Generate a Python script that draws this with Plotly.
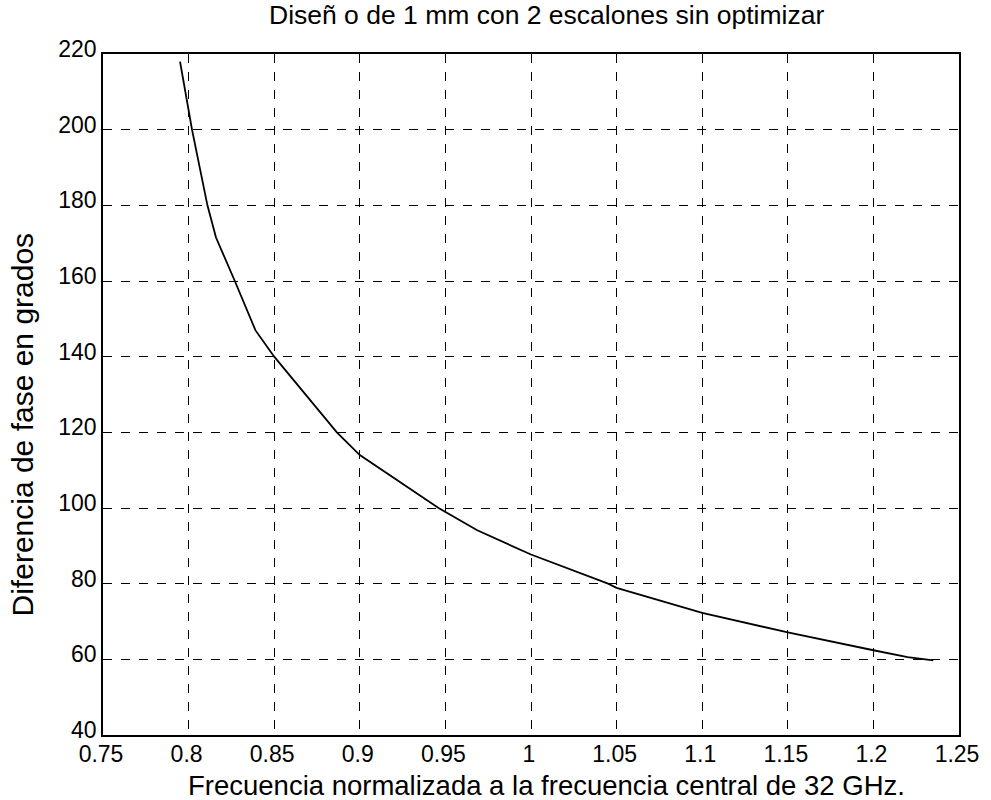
import plotly.graph_objects as go

# Normalized frequency (f / 32 GHz) and phase difference in degrees
freq_norm = [0.795, 0.802, 0.811, 0.816, 0.827, 0.839, 0.85, 0.8698, 0.8866, 0.9,
             0.946, 0.9686, 1.0, 1.045, 1.05, 1.1, 1.15, 1.2, 1.22, 1.235]
phase_deg = [218, 200, 180, 171.5, 160, 147, 140, 129.3, 120, 114,
             100, 94.1, 87.7, 80, 78.9, 72.3, 67.1, 62.4, 60.6, 59.7]

x_ticks = [0.75, 0.8, 0.85, 0.9, 0.95, 1.0, 1.05, 1.1, 1.15, 1.2, 1.25]
x_tick_text = ["0.75", "0.8", "0.85", "0.9", "0.95", "1", "1.05", "1.1", "1.15", "1.2", "1.25"]
y_ticks = [40, 60, 80, 100, 120, 140, 160, 180, 200, 220]

title_text = "Diseñ o de 1 mm con 2 escalones sin optimizar"
x_label = "Frecuencia normalizada a la frecuencia central de 32 GHz."
y_label = "Diferencia de fase en grados"

font_family = "Liberation Sans, Arial, sans-serif"

fig = go.Figure()
fig.add_trace(go.Scatter(
    x=freq_norm, y=phase_deg, mode="lines",
    line=dict(color="black", width=1.8),
    showlegend=False,
))

axis_common = dict(
    showline=True, mirror=True, linecolor="black", linewidth=1.8,
    showgrid=True, gridcolor="black", gridwidth=1, griddash="dash",
    zeroline=False, ticks="",
    tickfont=dict(family=font_family, size=23, color="black"),
)

fig.update_xaxes(range=[0.75, 1.25], tickvals=x_ticks, ticktext=x_tick_text,
                 ticklabelstandoff=-3, ticklabelshift=-2, **axis_common)
fig.update_yaxes(range=[40, 220], tickvals=y_ticks,
                 ticklabelstandoff=0, ticklabelshift=-5, **axis_common)

label_font = dict(family=font_family, color="black")
fig.update_layout(
    width=991, height=800,
    margin=dict(l=103, r=26, t=54, b=65),
    paper_bgcolor="white", plot_bgcolor="white",
    annotations=[
        dict(text=title_text, xref="paper", yref="paper", x=0.5185, y=1.0,
             yshift=39, xanchor="center", yanchor="middle", showarrow=False,
             font=dict(size=26.5, **label_font)),
        dict(text=x_label, xref="paper", yref="paper", x=0.5185, y=0.0,
             yshift=-50, xanchor="center", yanchor="middle", showarrow=False,
             font=dict(size=27.5, **label_font)),
        dict(text=y_label, xref="paper", yref="paper", x=0.0, y=0.456,
             xshift=-81, xanchor="center", yanchor="middle", showarrow=False,
             textangle=-90, font=dict(size=30, **label_font)),
    ],
)

fig.write_html("out.html")
